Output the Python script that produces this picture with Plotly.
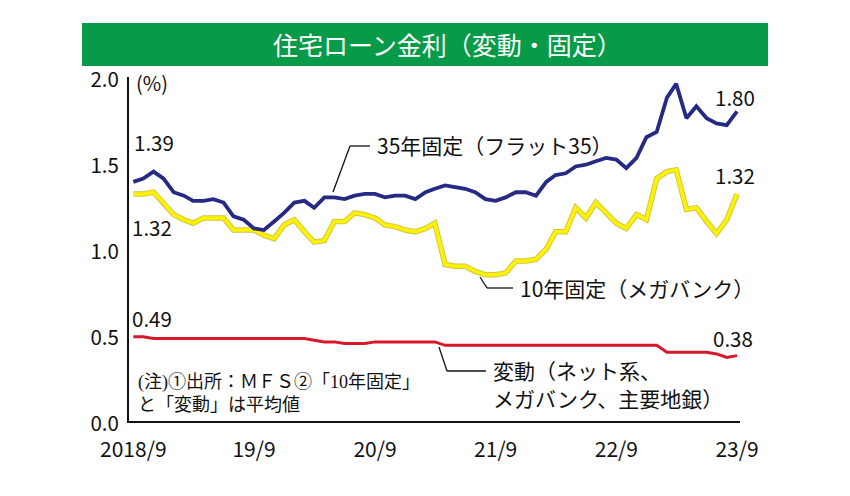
import pandas as pd
import plotly.graph_objects as go

# monthly, 2018/9 .. 2023/9
months = pd.date_range("2018-09-01", "2023-09-01", freq="MS")

flat35 = [1.39, 1.41, 1.45, 1.41, 1.33, 1.31, 1.28, 1.28, 1.29, 1.27,
          1.19, 1.17, 1.12, 1.11, 1.16, 1.21, 1.27, 1.28, 1.24, 1.30,
          1.30, 1.29, 1.31, 1.32, 1.32, 1.30, 1.31, 1.31, 1.29, 1.33,
          1.35, 1.37, 1.36, 1.35, 1.33, 1.29, 1.28, 1.30, 1.33, 1.33,
          1.31, 1.39, 1.43, 1.44, 1.48, 1.49, 1.51, 1.53, 1.52, 1.47,
          1.53, 1.65, 1.68, 1.88, 1.96, 1.76, 1.83, 1.76, 1.73, 1.72,
          1.80]

fixed10 = [1.32, 1.32, 1.33, 1.27, 1.20, 1.17, 1.15, 1.18, 1.18, 1.18,
           1.11, 1.11, 1.11, 1.08, 1.06, 1.14, 1.17, 1.10, 1.04, 1.05,
           1.16, 1.16, 1.21, 1.20, 1.18, 1.14, 1.13, 1.11, 1.10, 1.12,
           1.15, 0.91, 0.90, 0.90, 0.87, 0.85, 0.85, 0.86, 0.93, 0.93,
           0.94, 1.00, 1.10, 1.10, 1.24, 1.18, 1.27, 1.21, 1.15, 1.12,
           1.20, 1.17, 1.41, 1.45, 1.46, 1.23, 1.24, 1.16, 1.09, 1.17,
           1.32]

variable = [0.49, 0.49, 0.48, 0.48, 0.48, 0.48, 0.48, 0.48, 0.48, 0.48,
            0.48, 0.48, 0.48, 0.48, 0.48, 0.48, 0.48, 0.48, 0.47, 0.46,
            0.46, 0.45, 0.45, 0.45, 0.46, 0.46, 0.46, 0.46, 0.46, 0.46,
            0.46, 0.44, 0.44, 0.44, 0.44, 0.44, 0.44, 0.44, 0.44, 0.44,
            0.44, 0.44, 0.44, 0.44, 0.44, 0.44, 0.44, 0.44, 0.44, 0.44,
            0.44, 0.44, 0.44, 0.40, 0.40, 0.40, 0.40, 0.40, 0.39, 0.37,
            0.38]

tick_dates = ["2018-09-01", "2019-09-01", "2020-09-01", "2021-09-01", "2022-09-01", "2023-09-01"]
tick_labels = ["2018/9", "19/9", "20/9", "21/9", "22/9", "23/9"]

FONT = "Noto Sans CJK JP"
SERIF = "Liberation Serif, Noto Sans CJK JP"

# page offset (body margin) and plot area, in window pixels
OFF = 8
L, R, T, B = 129, 740, 77, 421


def px(x):
    return (x - L) / (R - L)


def py(y):
    return (B - y) / (B - T)


fig = go.Figure()

fig.add_trace(go.Scatter(x=months, y=fixed10, mode="lines",
                         line=dict(color="#cfc845", width=5.5), hoverinfo="skip"))
fig.add_trace(go.Scatter(x=months, y=fixed10, mode="lines",
                         line=dict(color="#fff200", width=3.5)))
fig.add_trace(go.Scatter(x=months, y=flat35, mode="lines",
                         line=dict(color="#262a85", width=3.8)))
fig.add_trace(go.Scatter(x=months, y=variable, mode="lines",
                         line=dict(color="#d6182b", width=3)))


def note(text, x, y, size=20.5, anchor="left", family=FONT, color="#111111"):
    return dict(text=text, x=px(x), y=py(y), xref="paper", yref="paper",
                xanchor=anchor, yanchor="middle", showarrow=False,
                font=dict(family=family, size=size, color=color))


annotations = [
    note("住宅ローン金利（変動・固定）", 447, 44, size=25, anchor="center", color="white"),
    note("(%)", 134, 82, size=20),
    note("1.39", 132, 142),
    note("1.32", 130, 227),
    note("0.49", 130, 318),
    note("1.80", 713, 97),
    note("1.32", 713, 175),
    note("0.38", 711, 338),
    note("35年固定（フラット35）", 375, 145, size=21),
    note("10年固定（メガバンク）", 518, 288, size=21),
    note("変動（ネット系、", 491, 370, size=21),
    note("メガバンク、主要地銀）", 491, 398, size=21),
    note("(注)①出所：ＭＦＳ②「10年固定」", 136, 382, size=18, family=SERIF),
    note("と「変動」は平均値", 136, 405, size=18, family=SERIF),
]

shapes = [
    dict(type="rect", xref="paper", yref="paper", x0=px(82), x1=px(768), y0=py(66), y1=py(23),
         fillcolor="#079a48", line=dict(width=0), layer="below"),
]
leaders = [
    [(370, 146), (350, 146), (333, 192)],
    [(513, 288), (487, 288), (480, 277)],
    [(486, 371), (447, 371), (439, 347)],
]
for pts in leaders:
    for (x0, y0), (x1, y1) in zip(pts[:-1], pts[1:]):
        shapes.append(dict(type="line", xref="paper", yref="paper",
                           x0=px(x0), y0=py(y0), x1=px(x1), y1=py(y1),
                           line=dict(color="#111111", width=1.3)))

fig.update_layout(
    width=850 - OFF, height=496 - OFF,
    margin=dict(l=L - OFF, r=850 - R, t=T - OFF, b=496 - B),
    paper_bgcolor="white", plot_bgcolor="white",
    showlegend=False,
    font=dict(family=FONT, size=20, color="#111111"),
    annotations=annotations,
    shapes=shapes,
)
fig.update_xaxes(
    range=["2018-08-19", "2023-09-10"],
    tickvals=tick_dates, ticktext=tick_labels,
    showgrid=False, zeroline=False,
    showline=True, linecolor="#111111", linewidth=2,
    ticks="", ticklabelstandoff=9,
    tickfont=dict(size=21),
)
fig.update_yaxes(
    range=[0, 2.0],
    tickvals=[0, 0.5, 1.0, 1.5, 2.0], ticktext=["0.0", "0.5", "1.0", "1.5", "2.0"],
    showgrid=False, zeroline=False,
    showline=True, linecolor="#111111", linewidth=2,
    ticks="", ticklabelstandoff=4, ticklabelshift=3,
    tickfont=dict(size=20.5),
)

fig.write_html("out.html")
